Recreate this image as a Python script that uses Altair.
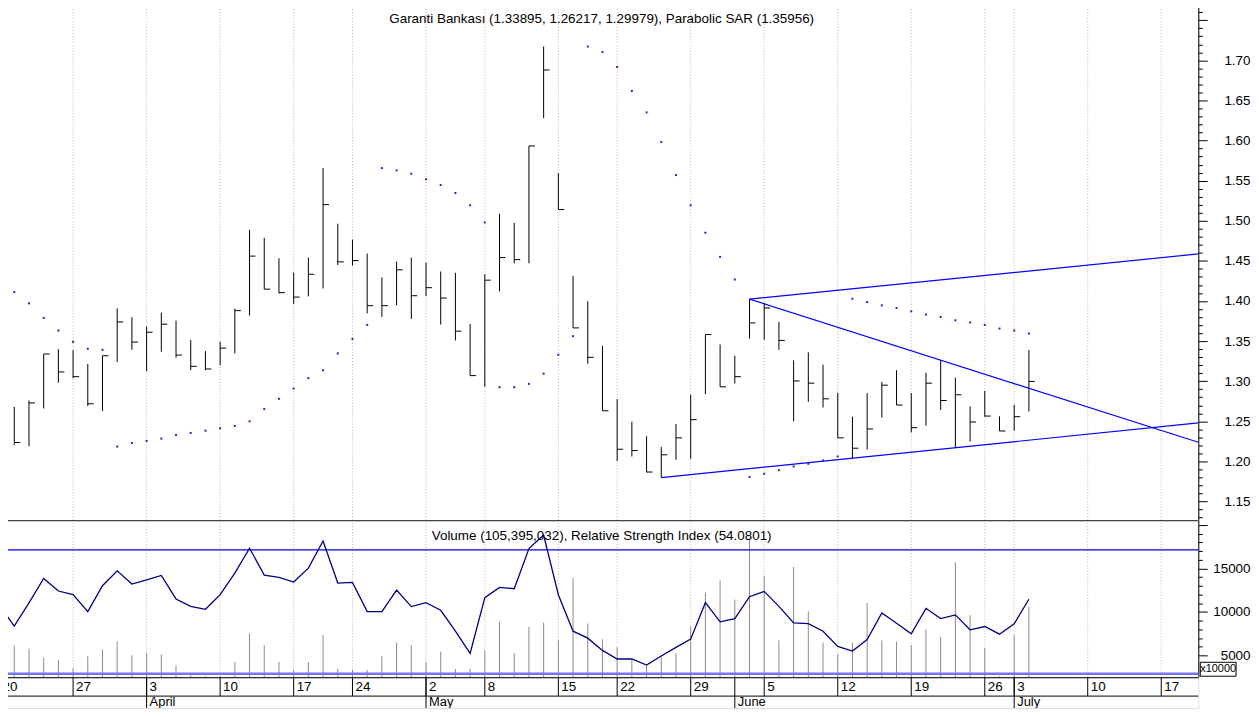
import altair as alt
import pandas as pd

FONT = "Liberation Sans"

# ---------------- data ----------------
high = [1.268, 1.276, 1.334, 1.340, 1.3388, 1.3215, 1.3318, 1.3909, 1.3797, 1.3682,
        1.3855, 1.3757, 1.3516, 1.3376, 1.3491, 1.3905, 1.4888, 1.4789, 1.4533, 1.4355,
        1.4541, 1.5657, 1.4963, 1.4764, 1.4591, 1.4293, 1.4492, 1.4541, 1.4479, 1.4368,
        1.4352, 1.3715, 1.4334, 1.5087, 1.4975, 1.5933, 1.7173, 1.5595, 1.4314, 1.3996,
        1.3442, 1.2777, 1.2496, 1.2314, 1.2182, 1.2467, 1.2831, 1.3583, 1.3459, 1.3318,
        1.4024, 1.3975, 1.3739, 1.3261, 1.336, 1.3206, 1.2855, 1.2558, 1.2852, 1.2992,
        1.3137, 1.2852, 1.3107, 1.3261, 1.3045, 1.2686, 1.288, 1.2562, 1.2707, 1.33895]
low = [1.2207, 1.219, 1.266, 1.298, 1.3038, 1.269, 1.2628, 1.324, 1.3392, 1.3124,
       1.3367, 1.3293, 1.3137, 1.3137, 1.3202, 1.3347, 1.3819, 1.4148, 1.4095, 1.3962,
       1.4058, 1.4157, 1.445, 1.4442, 1.3847, 1.3801, 1.3946, 1.3776, 1.4062, 1.3707,
       1.3509, 1.307, 1.293, 1.412, 1.447, 1.447, 1.628, 1.514, 1.3665, 1.3219,
       1.2632, 1.2004, 1.2062, 1.1864, 1.1798, 1.2021, 1.2033, 1.2839, 1.293, 1.2971,
       1.3533, 1.3516, 1.3392, 1.25, 1.2744, 1.2673, 1.2294, 1.2041, 1.2149, 1.2549,
       1.2703, 1.2363, 1.2446, 1.2641, 1.217, 1.2248, 1.2558, 1.238, 1.2384, 1.26217]
close = [1.2236, 1.273, 1.334, 1.3116, 1.3057, 1.2719, 1.3318, 1.3739, 1.3488, 1.3611,
         1.3711, 1.3326, 1.3186, 1.3153, 1.3413, 1.388, 1.456, 1.4148, 1.4104, 1.4049,
         1.4334, 1.5202, 1.4488, 1.4504, 1.3942, 1.3942, 1.4389, 1.4066, 1.4166, 1.4037,
         1.3624, 1.307, 1.426, 1.4541, 1.4516, 1.5933, 1.688, 1.514, 1.3665, 1.3298,
         1.2632, 1.2152, 1.2136, 1.1868, 1.2083, 1.2294, 1.2521, 1.3583, 1.293, 1.3057,
         1.3727, 1.3913, 1.3509, 1.3004, 1.2976, 1.2781, 1.2294, 1.2165, 1.2405, 1.2951,
         1.2703, 1.2421, 1.2976, 1.276, 1.2831, 1.2492, 1.2566, 1.238, 1.2558, 1.29979]
sar = [1.4111, 1.3971, 1.3789, 1.3632, 1.3491, 1.3405, 1.3392, 1.2186, 1.2231, 1.2256,
       1.2285, 1.2331, 1.2356, 1.2384, 1.2413, 1.2442, 1.25, 1.2653, 1.2781, 1.2909,
       1.3038, 1.3137, 1.3347, 1.3528, 1.3702, 1.5657, 1.5628, 1.5587, 1.5517, 1.5446,
       1.5347, 1.5194, 1.4979, 1.2926, 1.2926, 1.2967, 1.3095, 1.333, 1.3562, 1.7173,
       1.7103, 1.6917, 1.662, 1.6351, 1.5983, 1.557, 1.5194, 1.4851, 1.455, 1.4268,
       1.1805, 1.1847, 1.1892, 1.1938, 1.1971, 1.2012, 1.2062, 1.4029, 1.3987, 1.3946,
       1.3913, 1.3872, 1.3831, 1.3801, 1.376, 1.3732, 1.3702, 1.3657, 1.3632, 1.35956]
# RSI starts one session before the first visible bar (clipped at the left edge)
rsi_prev = 52.0
rsi = [45.36, 52.88, 60.78, 56.73, 55.54, 50.08, 58.43, 63.25, 58.98, 60.36,
       61.74, 54.16, 51.78, 50.82, 55.54, 62.52, 70.55, 61.87, 61.10, 59.62,
       64.12, 72.89, 59.30, 59.50, 50.08, 50.08, 57.05, 51.69, 52.97, 50.50,
       43.75, 36.59, 54.58, 57.89, 57.47, 70.42, 74.82, 55.54, 43.75, 41.50,
       37.55, 34.76, 34.76, 32.83, 35.72, 38.51, 41.18, 52.97, 46.77, 47.83,
       54.90, 56.60, 51.78, 46.45, 46.16, 43.75, 38.84, 37.33, 41.08, 49.66,
       46.32, 42.92, 51.14, 47.83, 49.02, 44.20, 45.26, 42.79, 46.13, 54.0801]
# volume in units of 10,000 shares
volume = [6145, 5767, 4738, 4463, 3548, 4886, 5653, 6602, 5001, 5264,
          5115, 3822, 2770, 2600, 2600, 4234, 7518, 6179, 4234, 3319,
          4234, 7369, 3434, 3319, 3319, 4886, 6488, 6179, 4234, 5424,
          3434, 3434, 5538, 8890, 5264, 8284, 8776, 6717, 13924, 8661,
          6831, 5950, 4543, 3891, 4852, 5230, 8318, 12208, 13615, 11407,
          18466, 14153, 6717, 15182, 10069, 6454, 5115, 6454, 11030, 6717,
          6568, 6179, 7975, 7094, 15720, 9611, 5801, 2600, 7323, 10539.5032]

for arr in (high, low, close, sar, rsi, volume):
    assert len(arr) == 70, len(arr)
session = list(range(70))

week_pos = [-1, 4, 9, 14, 19, 23, 28, 32, 37, 41, 46, 51, 56, 61, 66, 68, 73, 78]
week_lbl = ["20", "27", "3", "10", "17", "24", "2", "8", "15", "22", "29", "5",
            "12", "19", "26", "3", "10", "17"]
month_pos = [9, 28, 49, 68]
month_lbl = ["April", "May", "June", "July"]

trend_x0 = [50, 50, 44]
trend_p0 = [1.4024, 1.4024, 1.1798]
trend_x1 = [80.52, 80.52, 80.52]
trend_p1 = [1.4587, 1.2239, 1.2480]

rsi_levels_hi = [70]
rsi_levels_lo = [30]

X_DOMAIN = [-0.832, 80.52]
P_DOMAIN = [1.1269, 1.7715]
V_DOMAIN = [2483, 20561]
R_DOMAIN = [28.88, 79.64]

price_ticks = [round(1.13 + 0.01 * k, 2) for k in range(65)]
vol_ticks = list(range(5000, 20001, 1000))

title_top = (f"Garanti Bankası ({high[-1]:.5f}, {low[-1]:.5f}, {close[-1]:.5f}), "
             f"Parabolic SAR ({sar[-1]:.5f})")
title_bot = (f"Volume ({int(round(volume[-1] * 10000)):,}), "
             f"Relative Strength Index ({rsi[-1]:.4f})")

# ---------------- frames ----------------
bars = pd.DataFrame({"i": session, "h": high, "l": low, "c": close, "s": sar, "v": volume})
rsi_df = pd.DataFrame({"i": [-1] + session, "r": [rsi_prev] + rsi})
weeks = pd.DataFrame({"i": week_pos, "lbl": week_lbl})
months = pd.DataFrame({"i": month_pos, "lbl": month_lbl})
trends = pd.DataFrame({"x0": trend_x0, "p0": trend_p0, "x1": trend_x1, "p1": trend_p1})

W = 1203
H1, H2, H3 = 520, 158, 31

xs = alt.Scale(domain=X_DOMAIN, nice=False, zero=False)
ps = alt.Scale(domain=P_DOMAIN, nice=False, zero=False)
vs = alt.Scale(domain=V_DOMAIN, nice=False, zero=False)
rs = alt.Scale(domain=R_DOMAIN, nice=False, zero=False)


def X(field):
    return alt.X(field, type="quantitative", scale=xs, axis=None)


P_MAJOR = "round(datum.value*100) % 5 == 0"
P_LABEL = P_MAJOR + " && datum.value < 1.73"
price_axis = alt.Axis(
    orient="right", values=price_ticks, title=None, grid=False,
    domainColor="black", tickColor="black", tickWidth=1,
    tickSize={"condition": {"test": P_MAJOR, "value": 9}, "value": 4},
    labelExpr=f"({P_LABEL}) ? format(datum.value, '.2f') : ''",
    labelFontSize={"condition": {"test": P_LABEL, "value": 13.5}, "value": 0},
    labelAlign="right", labelPadding=43, labelFont=FONT,
    labelColor="black", labelOverlap=False, labelBound=False,
)
V_MAJOR = "datum.value % 5000 == 0"
V_LABEL = V_MAJOR + " && datum.value < 20000"
vol_axis = alt.Axis(
    orient="right", values=vol_ticks, title=None, grid=False,
    domainColor="black", tickColor="black", tickWidth=1,
    tickSize={"condition": {"test": V_MAJOR, "value": 9}, "value": 4},
    labelExpr=f"({V_LABEL}) ? format(datum.value, 'd') : ''",
    labelFontSize={"condition": {"test": V_LABEL, "value": 13.5}, "value": 0},
    labelAlign="right", labelPadding=43, labelFont=FONT,
    labelColor="black", labelOverlap=False, labelBound=False,
)

grid_dash = [1, 2]
grid_color = "#b8b8b8"

# ---------------- top panel ----------------
base = alt.Chart(bars)
grid_top = alt.Chart(weeks).mark_rule(color=grid_color, strokeDash=grid_dash, strokeWidth=1, clip=True).encode(x=X("i"))
hl = base.mark_rule(color="black", strokeWidth=1).encode(
    x=X("i"), y=alt.Y("l:Q", scale=ps, axis=price_axis), y2="h:Q")
cl = base.mark_rule(color="black", strokeWidth=1, x2Offset=6).encode(
    x=X("i"), x2="i:Q", y=alt.Y("c:Q", scale=ps, axis=price_axis))
sar_pts = base.mark_square(size=4, color="#2828b8", opacity=1).encode(
    x=X("i"), y=alt.Y("s:Q", scale=ps, axis=price_axis))
trend = alt.Chart(trends).mark_rule(color="#0000ff", strokeWidth=1.2, clip=True).encode(
    x=X("x0"), x2="x1:Q", y=alt.Y("p0:Q", scale=ps, axis=price_axis), y2="p1:Q")
ttl_top = alt.Chart(pd.DataFrame({"t": [title_top]})).mark_text(
    font=FONT, fontSize=13.5, color="black", align="center", baseline="middle").encode(
    text="t:N", x=alt.value(603), y=alt.value(16))
top = alt.layer(grid_top, trend, hl, cl, sar_pts, ttl_top).properties(width=W, height=H1)

# ---------------- bottom panel ----------------
grid_bot = alt.Chart(weeks).mark_rule(color=grid_color, strokeDash=grid_dash, strokeWidth=1, clip=True).encode(x=X("i"))
vol_bars = base.mark_rule(color="#8a8a8a", strokeWidth=1).encode(
    x=X("i"), y=alt.Y("v:Q", scale=vs, axis=vol_axis), y2=alt.datum(V_DOMAIN[0]))
rsi_hi = alt.Chart(pd.DataFrame({"r": rsi_levels_hi})).mark_rule(color="#0000ee", strokeWidth=1.2).encode(
    y=alt.Y("r:Q", scale=rs, axis=None))
rsi_lo = alt.Chart(pd.DataFrame({"r": rsi_levels_lo})).mark_rule(color="#7474ff", strokeWidth=2.5).encode(
    y=alt.Y("r:Q", scale=rs, axis=None))
rsi_line = alt.Chart(rsi_df).mark_line(color="#000080", strokeWidth=1.3, clip=True).encode(
    x=X("i"), y=alt.Y("r:Q", scale=rs, axis=None))
sep = alt.Chart(pd.DataFrame({"k": [0]})).mark_rule(color="#444444", strokeWidth=1.2).encode(
    x=alt.value(0), x2=alt.value(W), y=alt.value(0.5))
ttl_bot = alt.Chart(pd.DataFrame({"t": [title_bot]})).mark_text(
    font=FONT, fontSize=13.5, color="black", align="center", baseline="middle").encode(
    text="t:N", x=alt.value(603), y=alt.value(16))
mult_box = alt.Chart(pd.DataFrame({"k": [0]})).mark_rect(fill="white", stroke="black", strokeWidth=1).encode(
    x=alt.value(W + 2), x2=alt.value(W + 38), y=alt.value(H2 - 15), y2=alt.value(H2 - 1))
mult_txt = alt.Chart(pd.DataFrame({"t": ["x10000"]})).mark_text(
    font=FONT, fontSize=11, color="black", align="center", baseline="middle").encode(
    text="t:N", x=alt.value(W + 20), y=alt.value(H2 - 8))
bottom = alt.layer(grid_bot, vol_bars, rsi_hi, rsi_lo, rsi_line, sep, ttl_bot, mult_box, mult_txt).resolve_scale(
    y="independent").properties(width=W, height=H2)

# ---------------- date axis panel ----------------
axis_lines = alt.Chart(pd.DataFrame({"yy": [0.5, 19]})).mark_rule(color="black", strokeWidth=1).encode(
    x=alt.value(0), x2=alt.value(W), y=alt.Y("yy:Q", scale=alt.Scale(domain=[0, H3], range=[0, H3]), axis=None))
week_ticks = alt.Chart(weeks).mark_rule(color="black", strokeWidth=1, clip=True).encode(
    x=X("i"), y=alt.value(0), y2=alt.value(19))
week_text = alt.Chart(weeks).mark_text(font=FONT, fontSize=13.5, color="black", align="left",
                                       baseline="middle", dx=3, clip=True).encode(
    x=X("i"), y=alt.value(10), text="lbl:N")
month_ticks = alt.Chart(months).mark_rule(color="black", strokeWidth=1, clip=True).encode(
    x=X("i"), y=alt.value(0), y2=alt.value(H3))
month_text = alt.Chart(months).mark_text(font=FONT, fontSize=13, color="black", align="left",
                                         baseline="middle", dx=3, clip=True).encode(
    x=X("i"), y=alt.value(24.5), text="lbl:N")
axis_panel = alt.layer(axis_lines, week_ticks, week_text, month_ticks, month_text).properties(width=W, height=H3)

chart = alt.vconcat(top, bottom, axis_panel, spacing=0, bounds="flush").properties(
    padding={"left": -8, "top": -8, "right": 0, "bottom": 0}
).configure_view(strokeWidth=0).configure(background="white")
chart.save("out.html", embed_options={"renderer": "svg", "actions": False})
